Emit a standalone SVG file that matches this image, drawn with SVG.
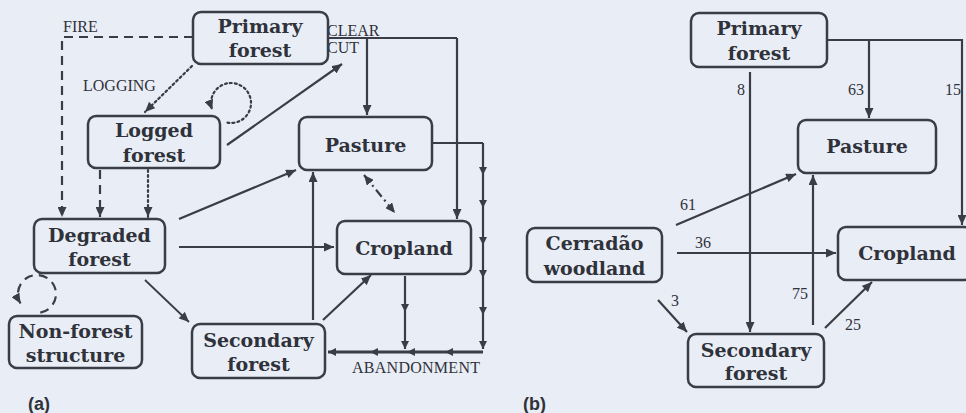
<svg xmlns="http://www.w3.org/2000/svg" width="966" height="413" viewBox="0 0 966 413">
<defs>
<marker id="ah" markerUnits="userSpaceOnUse" markerWidth="11" markerHeight="9" refX="10" refY="4.5" orient="auto-start-reverse"><path d="M0,0 L10,4.5 L0,9 z" fill="#3a3d45"/></marker>
<marker id="ahs" markerUnits="userSpaceOnUse" markerWidth="9" markerHeight="8" refX="8" refY="4" orient="auto-start-reverse"><path d="M0,0 L8,4 L0,8 z" fill="#3a3d45"/></marker>
<style>
.bg{fill:#e9edf5}
.box{fill:none;stroke:#3a3d45;stroke-width:2.5}
.nt{font-family:"DejaVu Serif",serif;font-weight:bold;font-size:19px;fill:#2f323a;text-anchor:middle}
.lb{font-family:"Liberation Serif",serif;font-size:16px;fill:#2f323a}
.pl{font-family:"Liberation Sans",sans-serif;font-weight:bold;font-size:18px;fill:#2f323a}
.c{fill:none;stroke:#3a3d45;stroke-width:2.2}
.a{marker-end:url(#ah)}
.m{marker-mid:url(#ahs);marker-end:url(#ahs)}
.dash{stroke-dasharray:9 6}
.dot{stroke-dasharray:2 3;stroke-linecap:round}
.dd{stroke-dasharray:9 4 2 4}
</style>
</defs>
<rect class="bg" x="0" y="0" width="966" height="413"/>
<g id="connectors">
<path class="c dash a" d="M193,37 H62 V217"/>
<path class="c dot a" d="M192,66 L145,112"/>
<path class="c dot a" d="M227.5,122.7 A20,20 0 1 0 212.2,109.8"/>
<path class="c a" d="M227,145 L342,64"/>
<path class="c" d="M328,38 H457"/>
<path class="c a" d="M457,38 V219"/>
<path class="c a" d="M367,38 V115"/>
<path class="c" d="M432,143 H483"/>
<path class="c m" d="M483,143 V175 V208 V245 V278 V315 V349"/>
<path class="c m" d="M483,352 H445 H407 H370 H328" style="stroke-width:3"/>
<path class="c m" d="M405,276 V312 V349"/>
<path class="c dd" d="M364,175 L395,213" style="marker-start:url(#ah);marker-end:url(#ah)"/>
<path class="c a" d="M313,320 V172"/>
<path class="c a" d="M323,320 L371,275"/>
<path class="c a" d="M179,219 L296,170"/>
<path class="c a" d="M179,247 H334"/>
<path class="c a" d="M145,280 L189,322" style="stroke-width:1.8"/>
<path class="c dash a" d="M100,170 V217"/>
<path class="c dot a" d="M148,170 V217"/>
<path class="c dash a" d="M40.3,312.7 A19,19 0 1 0 20.5,303.5"/>
<path class="c a" d="M750,72 V332"/>
<path class="c a" d="M827,40 H962 V225"/>
<path class="c a" d="M869,40 V118"/>
<path class="c a" d="M676,225 L796,174"/>
<path class="c a" d="M677,253 H836"/>
<path class="c a" d="M658,300 L687,332"/>
<path class="c a" d="M813,325 V175"/>
<path class="c a" d="M825,328 L872,282"/>
</g>
<g id="labels">
<text class="lb" x="63" y="32">FIRE</text>
<text class="lb" x="83" y="91" font-size="15">LOGGING</text>
<text class="lb" x="327" y="36">CLEAR</text>
<text class="lb" x="327" y="53">CUT</text>
<text class="lb" x="352" y="373" textLength="128">ABANDONMENT</text>
<text class="lb" x="737" y="95" font-size="17">8</text>
<text class="lb" x="848" y="95" font-size="17">63</text>
<text class="lb" x="945" y="95" font-size="17">15</text>
<text class="lb" x="680" y="210" font-size="17">61</text>
<text class="lb" x="695" y="248" font-size="17">36</text>
<text class="lb" x="671" y="306" font-size="17">3</text>
<text class="lb" x="792" y="299" font-size="17">75</text>
<text class="lb" x="845" y="330" font-size="17">25</text>
<text class="pl" x="28" y="410">(a)</text>
<text class="pl" x="523" y="410">(b)</text>
</g>
<g id="a-primary-forest"><rect class="box" x="193" y="12" width="135" height="52" rx="8"/><text class="nt" x="260" y="33">Primary</text><text class="nt" x="260" y="57">forest</text></g>
<g id="a-logged-forest"><rect class="box" x="88" y="116" width="132" height="52" rx="8"/><text class="nt" x="154" y="137">Logged</text><text class="nt" x="154" y="162">forest</text></g>
<g id="a-degraded-forest"><rect class="box" x="34" y="219" width="131" height="54" rx="8"/><text class="nt" x="99.5" y="242">Degraded</text><text class="nt" x="99.5" y="266">forest</text></g>
<g id="a-nonforest"><rect class="box" x="9" y="316" width="133" height="52" rx="8"/><text class="nt" x="75.5" y="338">Non-forest</text><text class="nt" x="75.5" y="362">structure</text></g>
<g id="a-secondary-forest"><rect class="box" x="192" y="324" width="133" height="54" rx="8"/><text class="nt" x="258.5" y="347">Secondary</text><text class="nt" x="258.5" y="371">forest</text></g>
<g id="a-pasture"><rect class="box" x="299" y="117" width="133" height="53" rx="8"/><text class="nt" x="365.5" y="152">Pasture</text></g>
<g id="a-cropland"><rect class="box" x="337" y="221" width="134" height="53" rx="8"/><text class="nt" x="404" y="255">Cropland</text></g>
<g id="b-primary-forest"><rect class="box" x="691" y="13" width="136" height="54" rx="8"/><text class="nt" x="759" y="35">Primary</text><text class="nt" x="759" y="60">forest</text></g>
<g id="b-pasture"><rect class="box" x="798" y="120" width="138" height="53" rx="8"/><text class="nt" x="867" y="153">Pasture</text></g>
<g id="b-cerradao"><rect class="box" x="527" y="228" width="135" height="54" rx="8"/><text class="nt" x="594.5" y="250">Cerradão</text><text class="nt" x="594.5" y="275">woodland</text></g>
<g id="b-cropland"><rect class="box" x="838" y="227" width="134" height="53" rx="8"/><text class="nt" x="907" y="260">Cropland</text></g>
<g id="b-secondary-forest"><rect class="box" x="688" y="334" width="136" height="53" rx="8"/><text class="nt" x="756" y="357">Secondary</text><text class="nt" x="756" y="380">forest</text></g>
</svg>
